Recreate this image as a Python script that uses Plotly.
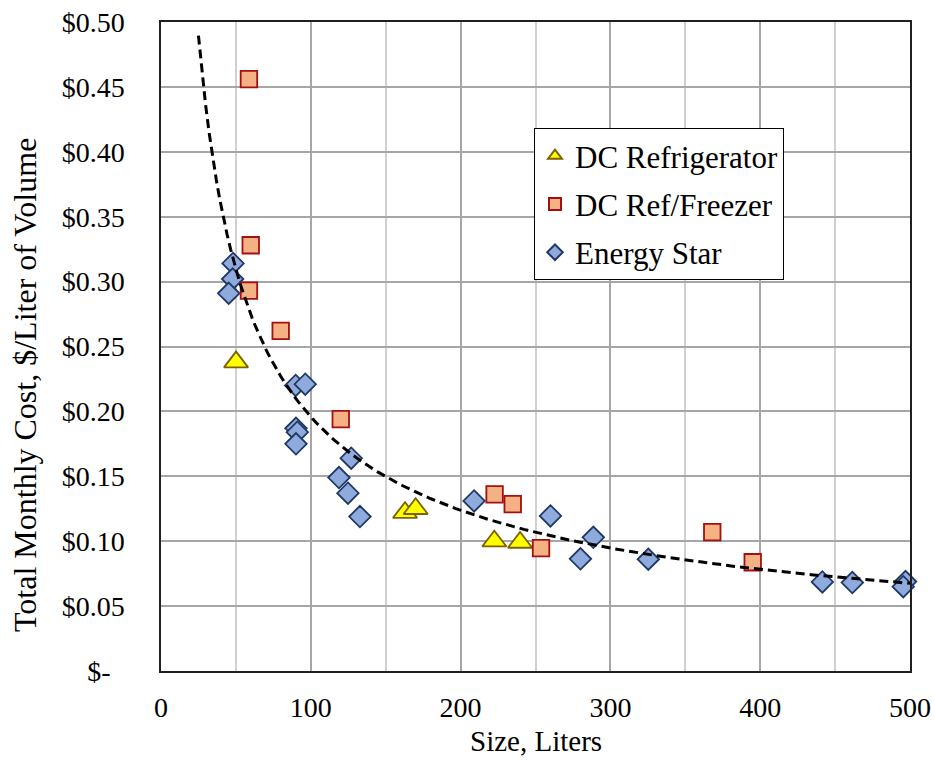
import numpy as np
import plotly.graph_objects as go

# DC Refrigerator (triangles)
dc_ref_x = [50.1, 162.9, 170.0, 222.5, 239.7]
dc_ref_y = [0.238, 0.122, 0.125, 0.100, 0.099]

# DC Ref/Freezer (squares)
dc_frz_x = [58.7, 59.9, 58.7, 79.9, 120.0, 222.7, 234.8, 253.7, 368.0, 395.0]
dc_frz_y = [0.456, 0.328, 0.293, 0.262, 0.194, 0.136, 0.1285, 0.0946, 0.107, 0.0838]

# Energy Star (diamonds)
es_x = [48.1, 47.8, 45.2, 89.9, 96.3, 90.1, 91.0, 90.1, 127.0, 118.8, 124.8, 132.8,
        209.0, 260.0, 280.0, 288.6, 325.3, 441.5, 461.5, 497.0, 495.5]
es_y = [0.314, 0.302, 0.291, 0.220, 0.221, 0.187, 0.184, 0.175, 0.164, 0.149, 0.137, 0.119,
        0.131, 0.1195, 0.0864, 0.103, 0.0861, 0.0686, 0.0681, 0.0689, 0.065]

# Power trendline (Excel-style) y = a * x^b, coefficients
trend_a = 4.11
trend_b = -0.661
trend_x_range = [25, 500]

y_ticks = [0.0, 0.05, 0.10, 0.15, 0.20, 0.25, 0.30, 0.35, 0.40, 0.45, 0.50]
y_ticktext = ["$-\u00a0\u00a0"] + [f"${v:.2f}" for v in y_ticks[1:]]
x_ticks = [0, 100, 200, 300, 400, 500]

FONT = "Liberation Serif, Times New Roman, serif"

fig = go.Figure()

fig.add_trace(go.Scatter(
    x=es_x, y=es_y, mode="markers", name="Energy Star",
    legendrank=3, legendgroup="c", cliponaxis=False,
    marker=dict(symbol="diamond", size=16.5, color="#8FAADC",
                line=dict(color="#1F3864", width=1.8)),
))
fig.add_trace(go.Scatter(
    x=dc_ref_x, y=dc_ref_y, mode="markers", name="DC Refrigerator",
    legendrank=1, legendgroup="a", cliponaxis=False,
    marker=dict(symbol="triangle-up", size=21, color="#FFFF00",
                line=dict(color="#7F6000", width=1.8)),
))
fig.add_trace(go.Scatter(
    x=dc_frz_x, y=dc_frz_y, mode="markers", name="DC Ref/Freezer",
    legendrank=2, legendgroup="b", cliponaxis=False,
    marker=dict(symbol="square", size=16.5, color="#F4B183",
                line=dict(color="#A50F0F", width=1.8)),
))

tx = np.linspace(trend_x_range[0], trend_x_range[1], 200)
ty = trend_a * tx ** trend_b
fig.add_trace(go.Scatter(
    x=tx, y=ty, mode="lines", showlegend=False, hoverinfo="skip",
    line=dict(color="black", width=3, dash="9px,5px"),
))

PW, PH = 749, 649  # plot area size in px (161..910, 22..671)

fig.update_layout(
    width=935, height=761,
    margin=dict(l=161, r=25, t=22, b=90, autoexpand=False),
    paper_bgcolor="white", plot_bgcolor="white",
    font=dict(family=FONT, size=28, color="black"),
    showlegend=True,
    legend=dict(
        x=(534 - 161) / PW, y=(671 - 128) / PH, xanchor="left", yanchor="top",
        bgcolor="white", bordercolor="black", borderwidth=1,
        font=dict(family=FONT, size=31, color="black"),
        tracegroupgap=5, itemsizing="constant",
    ),
    annotations=[
        dict(text="Total Monthly Cost, $/Liter of Volume", textangle=-90,
             xref="paper", yref="paper", x=(25 - 161) / PW, y=(671 - 385) / PH,
             xanchor="center", yanchor="middle", showarrow=False,
             font=dict(family=FONT, size=32, color="black")),
        dict(text="Size, Liters",
             xref="paper", yref="paper", x=0.5, y=(671 - 741) / PH,
             xanchor="center", yanchor="middle", showarrow=False,
             font=dict(family=FONT, size=29, color="black")),
    ],
)

fig.update_xaxes(
    range=[0, 500], tickvals=x_ticks, ticktext=[str(v) for v in x_ticks],
    showgrid=True, gridcolor="#A6A6A6", gridwidth=1.5,
    minor=dict(dtick=50, showgrid=True, gridcolor="#D0D0D0", gridwidth=1.5),
    showline=True, linecolor="#202020", linewidth=1.5, mirror=True,
    zeroline=False, ticks="", ticklabelstandoff=11, automargin=False,
    tickfont=dict(family=FONT, size=28),
)
fig.update_yaxes(
    range=[0, 0.5], tickvals=y_ticks, ticktext=y_ticktext,
    showgrid=True, gridcolor="#A6A6A6", gridwidth=1.5,
    showline=True, linecolor="#202020", linewidth=1.5, mirror=True,
    zeroline=False, ticks="", ticklabelstandoff=29, automargin=False,
    tickfont=dict(family=FONT, size=28),
)

fig.write_html("out.html")
